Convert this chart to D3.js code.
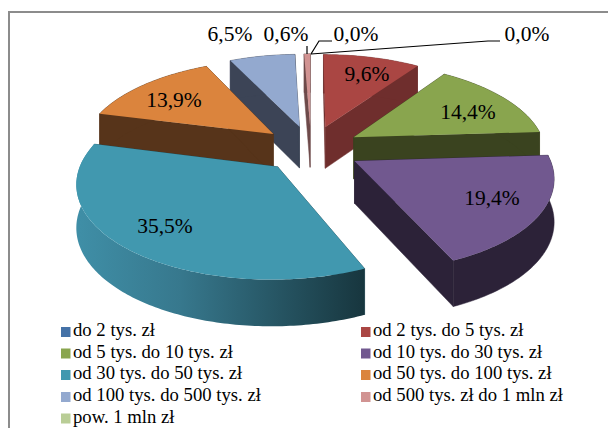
<!DOCTYPE html>
<html><head><meta charset="utf-8">
<style>html,body{margin:0;padding:0;background:#fff}svg{display:block}text{font-family:"Liberation Serif",serif;fill:#000}</style>
<script src="https://cdn.jsdelivr.net/npm/d3@7"></script>
</head><body><script>
const categories = ["do 2 tys. zł","od 2 tys. do 5 tys. zł","od 5 tys. do 10 tys. zł","od 10 tys. do 30 tys. zł","od 30 tys. do 50 tys. zł","od 50 tys. do 100 tys. zł","od 100 tys. do 500 tys. zł","od 500 tys. zł do 1 mln zł","pow. 1 mln zł"];
const values = [0,9.6,14.4,19.4,35.5,13.9,6.5,0.6,0];
const labels = ["0,0%","9,6%","14,4%","19,4%","35,5%","13,9%","6,5%","0,6%","0,0%"];
const topColors = ["#4572a7","#aa4643","#89a54e","#71588f","#4198af","#db843d","#93a9cf","#d19392","#b9cd96"];
const sideColors = ["#2a4464","#6f2e2d","#3a431f","#2c2238","#1f4a56","#57341a","#3c4456","#6e4a4a","#5c6b48"];
const paintOrder = [7,6,1,5,2,3,4];
// label anchor points in page space (layout, not data)
const labelAnchors = [[356,36],[367,76],[468,114],[492,200],[165,228],[174,102],[230,36],[286,36],[527,36]];

const W=608,H=428, cx=311, cy=148.5, R=192, Ry=89.5, k=0.152, depth=42, E=0.26;
const svg=d3.select("body").append("svg").attr("width",W).attr("height",H);
const defs=svg.append("defs");
const g=defs.append("linearGradient").attr("id","tealRim").attr("gradientUnits","userSpaceOnUse")
  .attr("x1",80).attr("x2",367).attr("y1",0).attr("y2",0);
g.append("stop").attr("offset",0).attr("stop-color","#3f8ea6");
g.append("stop").attr("offset",0.35).attr("stop-color","#37788d");
g.append("stop").attr("offset",1).attr("stop-color","#17353d");

svg.append("path").attr("d",`M9,${H}V12H${W}`).attr("fill","none").attr("stroke","#8c8c8c").attr("stroke-width",2);

const arcs=d3.pie().sort(null).value(d=>d)(values);
// world position on the pie plane, exploded along the slice's mid-angle, then projected in perspective
function project(X,V){const s=1/(1-k*V);return [cx+R*X*s,cy+Ry*V*s,s];}
function offset(a){const m=(a.startAngle+a.endAngle)/2;return [E*Math.sin(m),-E*Math.cos(m)];}
function pt(a,t){const o=offset(a);return project(Math.sin(t)+o[0],-Math.cos(t)+o[1]);}
function apex(a){const o=offset(a);return project(o[0],o[1]);}
function drop(p){return [p[0],p[1]+depth*(1+0.5*(p[2]-1))];}
const line=d3.line().curve(d3.curveLinear);
function rim(a){const n=Math.max(2,Math.ceil((a.endAngle-a.startAngle)*60));return d3.range(n+1).map(i=>pt(a,a.startAngle+(a.endAngle-a.startAngle)*i/n));}

paintOrder.forEach(i=>{
  const a=arcs[i],c=apex(a),r=rim(a),side=sideColors[i];
  const grp=svg.append("g");
  const xy=p=>[p[0],p[1]];
  const face=(p)=>grp.append("path").attr("d",line([xy(c),xy(p),drop(p),drop(c)])+"Z").attr("fill",side).attr("stroke",side).attr("stroke-width",.5);
  face(r[0]);face(r[r.length-1]);
  const strip=r.map(xy).concat(r.slice().reverse().map(drop));
  grp.append("path").attr("d",line(strip)+"Z").attr("fill",i===4?"url(#tealRim)":side).attr("stroke",i===4?"none":side).attr("stroke-width",.5);
  grp.append("path").attr("d",line([xy(c)].concat(r.map(xy)))+"Z").attr("fill",topColors[i]);
});

svg.append("path").attr("d","M307,46V54").attr("fill","none").attr("stroke","#000").attr("stroke-width",1.2);
svg.append("path").attr("d","M311,54L319,41H332").attr("fill","none").attr("stroke","#000").attr("stroke-width",1.2);
svg.append("path").attr("d","M311,54L488,41H500").attr("fill","none").attr("stroke","#000").attr("stroke-width",1.2);

svg.selectAll("text.lab").data(labels).join("text").attr("class","lab")
  .attr("x",(d,i)=>labelAnchors[i][0]).attr("y",(d,i)=>labelAnchors[i][1])
  .attr("text-anchor","middle").attr("dominant-baseline","middle").attr("font-size",21.5).text(d=>d);

const col=[61,361], rows=[332,353.5,375,397,418.5];
const leg=svg.selectAll("g.leg").data(categories).join("g").attr("class","leg")
  .attr("transform",(d,i)=>`translate(${col[i%2]},${rows[Math.floor(i/2)]})`);
leg.append("rect").attr("x",0).attr("y",-5).attr("width",9.5).attr("height",10).attr("fill",(d,i)=>topColors[i]);
leg.append("text").attr("x",12).attr("y",0).attr("dominant-baseline","middle").attr("font-size",18.7).text(d=>d);
</script></body></html>
